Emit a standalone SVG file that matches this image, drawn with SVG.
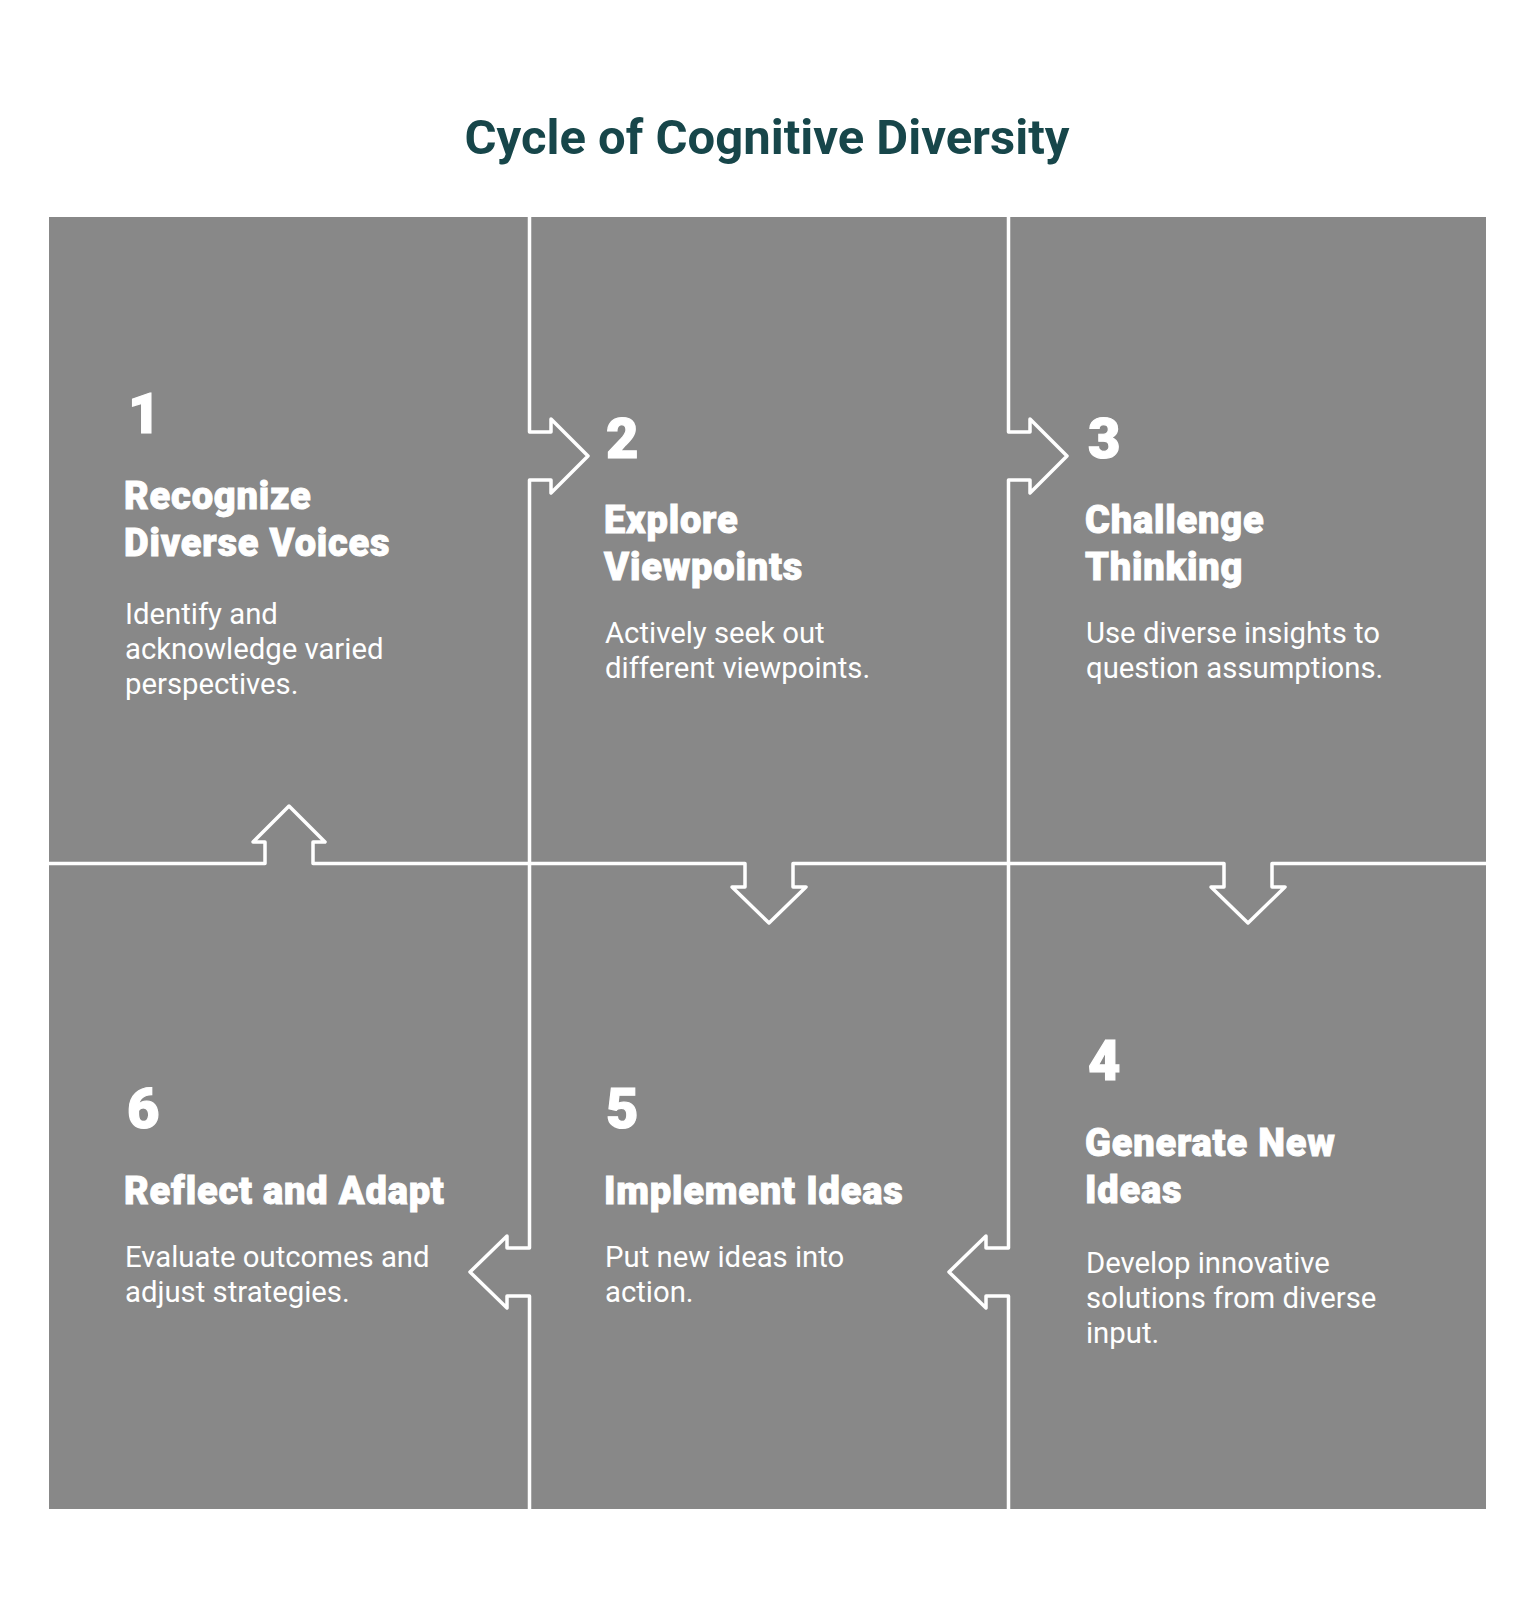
<svg xmlns="http://www.w3.org/2000/svg" width="1536" height="1608" viewBox="0 0 1536 1608">
<style>
.bg{fill:#ffffff}
.cell{fill:#888888}
.div{fill:none;stroke:#ffffff;stroke-width:3.5;stroke-linejoin:round;stroke-linecap:butt}
.title{font-family:Roboto,"Liberation Sans",sans-serif;font-weight:700;font-size:49px;fill:#17464A}
.num{font-family:Roboto,"Liberation Sans",sans-serif;font-weight:900;font-size:56px;fill:#ffffff;stroke:#ffffff;stroke-width:1.2}
.head{font-family:Roboto,"Liberation Sans",sans-serif;font-weight:900;font-size:38px;fill:#ffffff;stroke:#ffffff;stroke-width:0.9;letter-spacing:0.8px}
.desc{font-family:Roboto,"Liberation Sans",sans-serif;font-weight:400;font-size:29.3px;fill:#ffffff}
</style>
<rect class="bg" x="0" y="0" width="1536" height="1608"/>
<text class="title" x="767" y="154" text-anchor="middle">Cycle of Cognitive Diversity</text>
<rect class="cell" x="49" y="217" width="1437" height="1292"/>
<g id="node1">
<text class="num" x="128" y="433">1</text>
<text class="head" x="124"><tspan x="124" y="509">Recognize</tspan><tspan x="124" y="556">Diverse Voices</tspan></text>
<text class="desc" x="125"><tspan x="125" y="624">Identify and</tspan><tspan x="125" y="659">acknowledge varied</tspan><tspan x="125" y="694">perspectives.</tspan></text>
</g>
<g id="node2">
<text class="num" x="606" y="458">2</text>
<text class="head" x="604"><tspan x="604" y="533">Explore</tspan><tspan x="604" y="580">Viewpoints</tspan></text>
<text class="desc" x="605"><tspan x="605" y="643">Actively seek out</tspan><tspan x="605" y="678">different viewpoints.</tspan></text>
</g>
<g id="node3">
<text class="num" x="1088" y="458">3</text>
<text class="head" x="1085"><tspan x="1085" y="533">Challenge</tspan><tspan x="1085" y="580">Thinking</tspan></text>
<text class="desc" x="1086"><tspan x="1086" y="643">Use diverse insights to</tspan><tspan x="1086" y="678">question assumptions.</tspan></text>
</g>
<g id="node4">
<text class="num" x="1088" y="1080">4</text>
<text class="head" x="1085"><tspan x="1085" y="1156">Generate New</tspan><tspan x="1085" y="1203">Ideas</tspan></text>
<text class="desc" x="1086"><tspan x="1086" y="1273">Develop innovative</tspan><tspan x="1086" y="1308">solutions from diverse</tspan><tspan x="1086" y="1343">input.</tspan></text>
</g>
<g id="node5">
<text class="num" x="606" y="1128">5</text>
<text class="head" x="604"><tspan x="604" y="1204">Implement Ideas</tspan></text>
<text class="desc" x="605"><tspan x="605" y="1267">Put new ideas into</tspan><tspan x="605" y="1302">action.</tspan></text>
</g>
<g id="node6">
<text class="num" x="127" y="1128">6</text>
<text class="head" x="124"><tspan x="124" y="1204">Reflect and Adapt</tspan></text>
<text class="desc" x="125"><tspan x="125" y="1267">Evaluate outcomes and</tspan><tspan x="125" y="1302">adjust strategies.</tspan></text>
</g>
<g id="connectors">
<path class="div" d="M529.5,217 V432 H551 V419 L588,456 L551,493 V480 H529.5 V863.5"/>
<path class="div" d="M1008.5,217 V432 H1030 V419 L1067,456 L1030,493 V480 H1008.5 V863.5"/>
<path class="div" d="M529.5,863.5 V1248 H507 V1236 L470,1272 L507,1308 V1296 H529.5 V1509"/>
<path class="div" d="M1008.5,863.5 V1248 H986 V1236 L949,1272 L986,1308 V1296 H1008.5 V1509"/>
<path class="div" d="M49,863.5 H265 V842 H253 L289,806 L325,842 H313 V863.5 H745 V887 H732 L769,923 L806,887 H793 V863.5 H1224 V887 H1211 L1248,923 L1285,887 H1272 V863.5 H1486"/>
</g>
</svg>
